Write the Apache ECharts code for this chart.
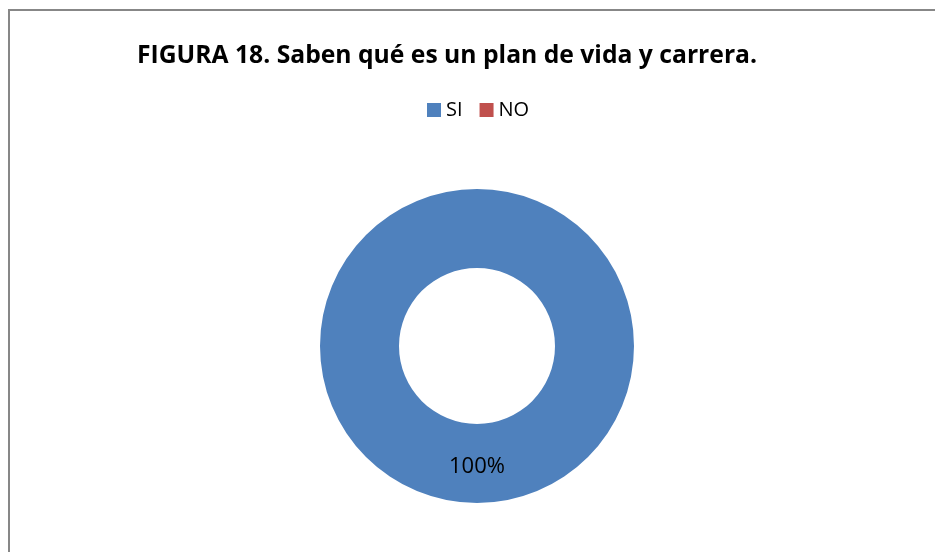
<!DOCTYPE html>
<html>
<head>
<meta charset="utf-8">
<script src="https://cdn.jsdelivr.net/npm/echarts@6/dist/echarts.min.js"></script>
<style>
  html, body { margin: 0; padding: 0; background: #fff; }
  #chart { width: 935px; height: 552px; }
</style>
</head>
<body>
<div id="chart"></div>
<script>
// datos de la figura
var categorias = ['SI', 'NO'];
var valores = [100, 0];
var colores = ['#4F81BD', '#C0504D'];

var fuente = '"Open Sans", "Noto Sans", sans-serif';

var datos = categorias.map(function (c, i) {
  var d = { name: c, value: valores[i], itemStyle: { color: colores[i] } };
  if (!valores[i]) {
    d.label = { show: false };
  }
  return d;
});

var chart = echarts.init(document.getElementById('chart'), null, { renderer: 'canvas' });

chart.setOption({
  backgroundColor: '#fff',
  animation: false,
  title: {
    text: 'FIGURA 18. Saben qué es un plan de vida y carrera.',
    left: 442,
    top: 38,
    textAlign: 'center',
    textStyle: { fontFamily: fuente, fontWeight: 'bold', fontSize: 24.7, color: '#000' }
  },
  legend: {
    data: categorias,
    left: 427,
    top: 100,
    padding: 0,
    itemWidth: 14,
    itemHeight: 14,
    itemGap: 17,
    icon: 'rect',
    textStyle: { fontFamily: fuente, fontSize: 20, color: '#000' }
  },
  graphic: [{
    type: 'rect',
    shape: { x: 9, y: 10, width: 1000, height: 1000 },
    style: { fill: 'none', stroke: '#878787', lineWidth: 2 },
    silent: true
  }],
  series: [{
    type: 'pie',
    center: [477, 346],
    radius: [78, 157],
    startAngle: 90,
    clockwise: true,
    avoidLabelOverlap: false,
    labelLine: { show: false },
    label: {
      show: true,
      position: 'inside',
      fontFamily: fuente,
      fontSize: 22,
      color: '#000',
      formatter: function (p) { return Math.round(p.percent) + '%'; }
    },
    emphasis: { disabled: true },
    data: datos
  }]
});
</script>
</body>
</html>
